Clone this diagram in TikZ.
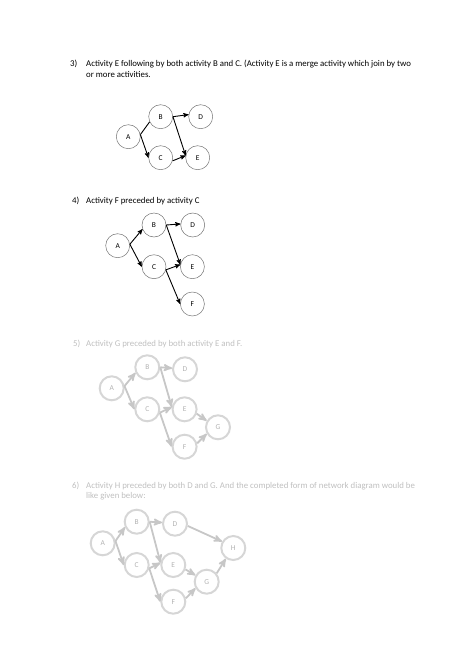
\documentclass[tikz,border=0pt]{standalone}
\usepackage{fontspec}
\setmainfont{Carlito}
\usetikzlibrary{arrows,positioning}
\tikzset{
    %Define standard arrow tip
    >=stealth',
    %Define style for activity circles
    activity/.style={
           circle,
           draw=black!55, line width=0.5pt,
           minimum size=24pt,
           inner sep=0pt,
           font=\fontsize{7.5}{9}\selectfont},
    %Define style for hidden activity circles
    hazy/.style={
           activity,
           draw=black!16, line width=2pt,
           text=black!30},
    %Define style for question texts
    question/.style={
           anchor=base west,
           inner sep=0pt,
           align=left,
           font=\fontsize{8.8}{10.9}\selectfont},
    % Define arrow style
    imply/.style={
           ->,
           line width=0.9pt},
    link/.style={
           line width=0.9pt},
    hazyimply/.style={
           ->,
           draw=black!22,
           line width=1.8pt}
}
\begin{document}
\begin{tikzpicture}[x=1pt, y=-1pt, on grid]
 \useasboundingbox (0,0) rectangle (474,670);
 %question 3 (base of a two line node is its last line)
    \node[question] (n3) at (70,66.5) {3)};
    \node[question] (q3) at (86,77.4) {Activity E following by both activity B and C. (Activity E is a merge activity which join by two\\or more activities.};
 %nodes
    \node[activity] (a3) at (128.3,136.7) {A};
    \node[activity, above right=20pt and 32.4pt of a3] (b3) {B};
    \node[activity, below=41pt of b3] (c3) {C};
    \node[activity, right=40pt of b3] (d3) {D};
    \node[activity, right=37pt of c3] (e3) {E};
 %edges
    \draw[link] (a3.10) -- (b3.205);
    \draw[imply] (a3.10) -- (c3.west);
    \draw[imply] (b3.east) -- (d3.170);
    \draw[imply] (b3.east) -- (e3.170);
    \draw[imply] (c3.345) -- (e3.170);
 %question 4
    \node[question] (n4) at (72,203) {4)};
    \node[question] (q4) at (86,203) {Activity F preceded by activity C};
 %nodes
    \node[activity] (a4) at (117.7,245.7) {A};
    \node[activity, above right=20.7pt and 36.3pt of a4] (b4) {B};
    \node[activity, below=41.7pt of b4] (c4) {C};
    \node[activity, right=38.7pt of b4] (d4) {D};
    \node[activity, right=38.4pt of c4] (e4) {E};
    \node[activity, below=37.3pt of e4] (f4) {F};
 %edges
    \draw[imply] (a4.7) -- (b4.200);
    \draw[imply] (a4.7) -- (c4.west);
    \draw[imply] (b4.east) -- (d4.175);
    \draw[imply] (b4.east) -- (e4.170);
    \draw[imply] (c4.345) -- (e4.170);
    \draw[imply] (c4.345) -- (f4.west);
 %question 5 (hidden)
    \node[question, text=black!25] (n5) at (73,346) {5)};
    \node[question, text=black!25] (q5) at (86,346) {Activity G preceded by both activity E and F.};
 %nodes
    \node[hazy] (a5) at (111.7,388.3) {A};
    \node[hazy, above right=21pt and 35.6pt of a5] (b5) {B};
    \node[hazy, below=42pt of b5] (c5) {C};
    \node[hazy, right=37.7pt of b5, yshift=-2pt] (d5) {D};
    \node[hazy, right=37.3pt of c5] (e5) {E};
    \node[hazy, below=37.4pt of e5] (f5) {F};
    \node[hazy, below right=18pt and 33.4pt of e5] (g5) {G};
 %edges
    \draw[hazyimply] (a5.10) -- (b5.205);
    \draw[hazyimply] (a5.10) -- (c5.west);
    \draw[hazyimply] (b5.east) -- (d5.175);
    \draw[hazyimply] (b5.east) -- (e5.170);
    \draw[hazyimply] (c5.345) -- (e5.170);
    \draw[hazyimply] (c5.345) -- (f5.west);
    \draw[hazyimply] (e5.340) -- (g5.150);
    \draw[hazyimply] (f5.15) -- (g5.210);
 %question 6 (hidden)
    \node[question, text=black!25] (n6) at (72,488) {6)};
    \node[question, text=black!25] (q6) at (86,498.9) {Activity H preceded by both D and G. And the completed form of network diagram would be\\like given below:};
 %nodes
    \node[hazy] (a6) at (102.7,543.3) {A};
    \node[hazy, above right=21.6pt and 34pt of a6] (b6) {B};
    \node[hazy, below=43.3pt of b6] (c6) {C};
    \node[hazy, right=38.3pt of b6, yshift=-2pt] (d6) {D};
    \node[hazy, right=36.6pt of c6] (e6) {E};
    \node[hazy, below=36.7pt of e6] (f6) {F};
    \node[hazy, below right=16.7pt and 33.4pt of e6] (g6) {G};
    \node[hazy, right=58.3pt of d6, yshift=-24.3pt] (h6) {H};
 %edges
    \draw[hazyimply] (a6.10) -- (b6.205);
    \draw[hazyimply] (a6.10) -- (c6.west);
    \draw[hazyimply] (b6.east) -- (d6.175);
    \draw[hazyimply] (b6.east) -- (e6.170);
    \draw[hazyimply] (c6.345) -- (e6.170);
    \draw[hazyimply] (c6.345) -- (f6.west);
    \draw[hazyimply] (d6.350) -- (h6.150);
    \draw[hazyimply] (e6.340) -- (g6.150);
    \draw[hazyimply] (f6.15) -- (g6.210);
    \draw[hazyimply] (g6.40) -- (h6.235);
\end{tikzpicture}
\end{document}
